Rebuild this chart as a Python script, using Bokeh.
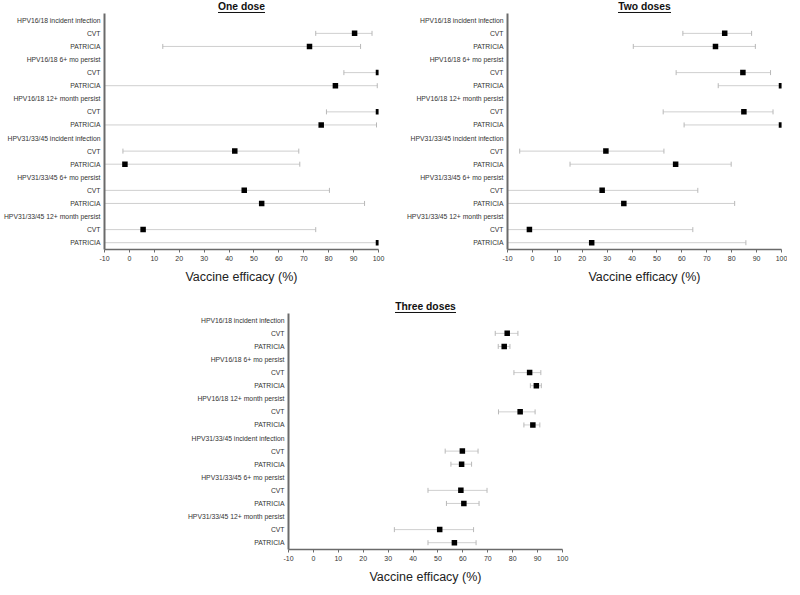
import numpy as np
from bokeh.plotting import figure
from bokeh.models import FixedTicker, Range1d, Spacer
from bokeh.layouts import row, column
from bokeh.embed import file_html
from bokeh.resources import INLINE
from bokeh.core.properties import value

# ---------------- data ----------------
outcomes = ["HPV16/18 incident infection", "HPV16/18 6+ mo persist",
            "HPV16/18 12+ month persist", "HPV31/33/45 incident infection",
            "HPV31/33/45 6+ mo persist", "HPV31/33/45 12+ month persist"]
trials = ["CVT", "PATRICIA"]
x_ticks = [-10, 0, 10, 20, 30, 40, 50, 60, 70, 80, 90, 100]
x_tick_labels = ["-10", "0", "10", "20", "30", "40", "50", "60", "70", "80", "90", "100"]
x_label = "Vaccine efficacy (%)"
panel_titles = ["One dose", "Two doses", "Three doses"]

# order: for each outcome -> CVT, PATRICIA
est_one = [90.4, 72.3, 100, 82.7, 100, 77.0, 42.3, -1.8, 46.1, 53.1, 5.5, 100]
lo_one = [74.8, 13.4, 86.1, -20, 79.1, -20, -2.6, -20, -20, -20, -20, -20]
hi_one = [97.4, 92.8, 100, 99.5, 100, 99.2, 68.0, 68.4, 80.3, 94.4, 74.8, 100]

est_two = [77.2, 73.5, 84.5, 100, 84.9, 100, 29.5, 57.5, 28.0, 36.7, -1.2, 23.8]
lo_two = [60.4, 40.5, 57.7, 74.6, 52.5, 60.9, -5.1, 15.1, -20, -20, -20, -20]
hi_two = [88.0, 89.5, 95.6, 100, 96.6, 100, 52.8, 79.8, 66.4, 81.2, 64.4, 85.7]

est_three = [77.8, 76.6, 86.8, 89.5, 83.0, 88.1, 59.8, 59.5, 59.2, 60.4, 50.7, 56.6]
lo_three = [73.0, 74.2, 80.5, 87.1, 74.3, 84.5, 52.9, 55.2, 46.0, 53.4, 32.5, 46.0]
hi_three = [82.1, 78.9, 91.3, 91.5, 89.0, 90.9, 66.1, 63.5, 69.7, 66.5, 64.3, 65.3]

# ---------------- style ----------------
FONT = "Liberation Sans"
ROW_PX = 13.1
TOP_PX = 13
FRAME_W = 274
AXIS_COLOR = "#6a6a6a"
CI_COLOR = "#cfcfcf"
CAP_COLOR = "#b8b8b8"


def make_panel(title, title_px_width, est, lo, hi, border_left, border_right, border_top=0):
    labels = []
    is_data = []
    for o in outcomes:
        labels.append(o)
        is_data.append(False)
        for t in trials:
            labels.append(t)
            is_data.append(True)
    n = len(labels)
    ypos_all = [n - 1 - i for i in range(n)]
    ys = [ypos_all[i] for i in range(n) if is_data[i]]

    y0 = -0.52
    y1 = n - 1 + 0.52
    top = y1 + TOP_PX / ROW_PX
    fh = int(round((top - y0) * ROW_PX))

    p = figure(frame_width=FRAME_W, frame_height=fh,
               x_range=Range1d(-10, 100), y_range=Range1d(y0, top),
               output_backend="svg", toolbar_location=None, title=None,
               min_border_left=border_left, min_border_right=border_right,
               min_border_top=border_top, min_border_bottom=0)
    p.outline_line_color = None
    p.xgrid.visible = False
    p.ygrid.visible = False
    p.background_fill_color = "white"
    p.border_fill_color = "white"

    # x axis
    xa = p.xaxis[0]
    xa.ticker = FixedTicker(ticks=x_ticks)
    xa.major_label_overrides = {x_ticks[i]: x_tick_labels[i] for i in range(len(x_ticks))}
    xa.axis_label = x_label
    xa.axis_label_text_font = FONT
    xa.axis_label_text_font_size = "12.5px"
    xa.axis_label_text_font_style = "normal"
    xa.axis_label_text_color = "#222222"
    xa.axis_label_standoff = 6
    xa.major_label_text_font = FONT
    xa.major_label_text_font_size = "7px"
    xa.major_label_text_color = "#333333"
    xa.major_label_standoff = 3
    xa.major_tick_in = 0
    xa.major_tick_out = 3
    xa.minor_tick_in = 0
    xa.minor_tick_out = 0
    xa.axis_line_color = AXIS_COLOR
    xa.axis_line_width = 1.5
    xa.major_tick_line_color = AXIS_COLOR

    # y axis
    ya = p.yaxis[0]
    ya.ticker = FixedTicker(ticks=ypos_all)
    ya.major_label_overrides = {ypos_all[i]: labels[i] for i in range(n)}
    ya.bounds = (y0, y1)
    ya.major_label_text_font = FONT
    ya.major_label_text_font_size = "6.8px"
    ya.major_label_text_color = "#333333"
    ya.major_label_standoff = 4
    ya.major_tick_in = 0
    ya.major_tick_out = 0
    ya.minor_tick_in = 0
    ya.minor_tick_out = 0
    ya.axis_line_color = AXIS_COLOR
    ya.axis_line_width = 2

    # CI lines and caps
    p.segment(x0=lo, y0=ys, x1=hi, y1=ys, line_color=CI_COLOR, line_width=1)
    p.scatter(x=list(lo) + list(hi), y=ys + ys, marker="dash", angle=np.pi / 2,
              size=5, line_color=CAP_COLOR, line_width=1)
    # point estimates
    p.scatter(x=est, y=ys, marker="square", size=5.5, fill_color="black",
              line_color=None)

    # title (bold, underlined)
    xc = 45
    yt = top - 6.5 / ROW_PX
    p.text(x=[xc], y=[yt], text=[title], text_font=value(FONT),
           text_font_size="10.3px", text_font_style="bold", text_align="center",
           text_baseline="middle", text_color="#111111")
    half = (title_px_width / 2) / (FRAME_W / 110.0)
    yu = top - 12 / ROW_PX
    p.segment(x0=[xc - half], y0=[yu], x1=[xc + half], y1=[yu],
              line_color="#111111", line_width=1)
    return p


p1 = make_panel(panel_titles[0], 47, est_one, lo_one, hi_one, 101, 17)
p2 = make_panel(panel_titles[1], 53, est_two, lo_two, hi_two, 112, 6)
p3 = make_panel(panel_titles[2], 61, est_three, lo_three, hi_three, 108, 10, border_top=14)

layout = column(row(p1, p2), row(Spacer(width=180), p3))

open("out.html", "w").write(file_html(layout, INLINE))
